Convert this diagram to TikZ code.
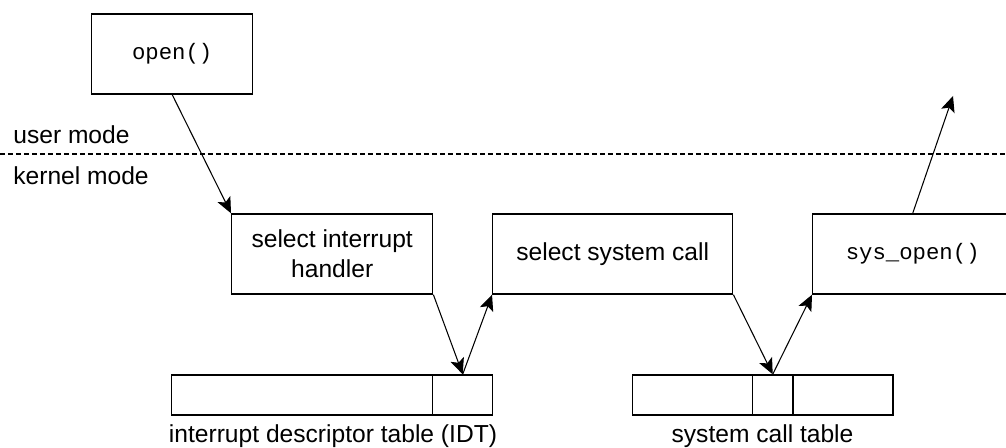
\documentclass[tikz,border=0pt]{standalone}
\usepackage{fontspec}
\setmainfont{Liberation Sans}
\setmonofont{Liberation Mono}
\usetikzlibrary{arrows.meta}
\begin{document}
\begin{tikzpicture}[x=0.02cm,y=-0.02cm]
\tikzset{
    box/.style={draw, line width=0.8pt, inner sep=0pt, align=center,
        minimum height=1.6cm, font=\fontsize{14}{17}\selectfont},
    cell/.style={draw, line width=0.8pt, inner sep=0pt, minimum height=0.8cm},
    mode line/.style={line width=0.6pt, dash pattern=on 0.1cm off 0.06cm},
    link/.style={line width=0.6pt, -{Stealth[length=9pt,width=8pt,inset=2pt]}},
    label/.style={font=\fontsize{14}{17}\selectfont, inner sep=0pt}}
\def\codefont{\fontsize{12.7}{15}\ttfamily}

\useasboundingbox (0,0) rectangle (1006,448);
\begin{scope}
\clip (0,0) rectangle (1006,448);

\draw[mode line] (0,154)--(1006,154);
\node[label, anchor=west] (user) at (13,135) {user mode};
\node[label, anchor=west] (kernel) at (13,176) {kernel mode};

\node[box, minimum width=3.22cm] (open) at (172.2,54) {\codefont open()};
\node[box, minimum width=4.02cm] (handler) at (332.2,254) {select interrupt\\handler};
\node[box, minimum width=4.8cm] (select) at (612.7,254) {select system call};
\node[box, minimum width=4.0cm] (sysopen) at (912.7,254) {\codefont sys\_open()};

% interrupt descriptor table
\node[cell, minimum width=5.22cm] (idtA) at (302.2,395) {};
\node[cell, minimum width=1.2cm] (idtB) at (462.7,395) {};
\node[label] (idtlabel) at (333,436) {interrupt descriptor table (IDT)};

% system call table
\node[cell, minimum width=2.4cm] (sctA) at (692.5,395) {};
\node[cell, minimum width=0.8cm] (sctB) at (772.7,395) {};
\node[cell, minimum width=2.0cm] (sctC) at (842.9,395) {};
\node[label] (sctlabel) at (762.5,436) {system call table};

\coordinate (back) at (953,96);

\draw[link] (open.south)--(handler.north west);
\draw[link] (handler.south east)--(idtB.north);
\draw[link] (idtB.north)--(select.south west);
\draw[link] (select.south east)--(sctB.north);
\draw[link] (sctB.north)--(sysopen.south west);
\draw[link] (sysopen.north)--(back);
\end{scope}
\end{tikzpicture}
\end{document}
